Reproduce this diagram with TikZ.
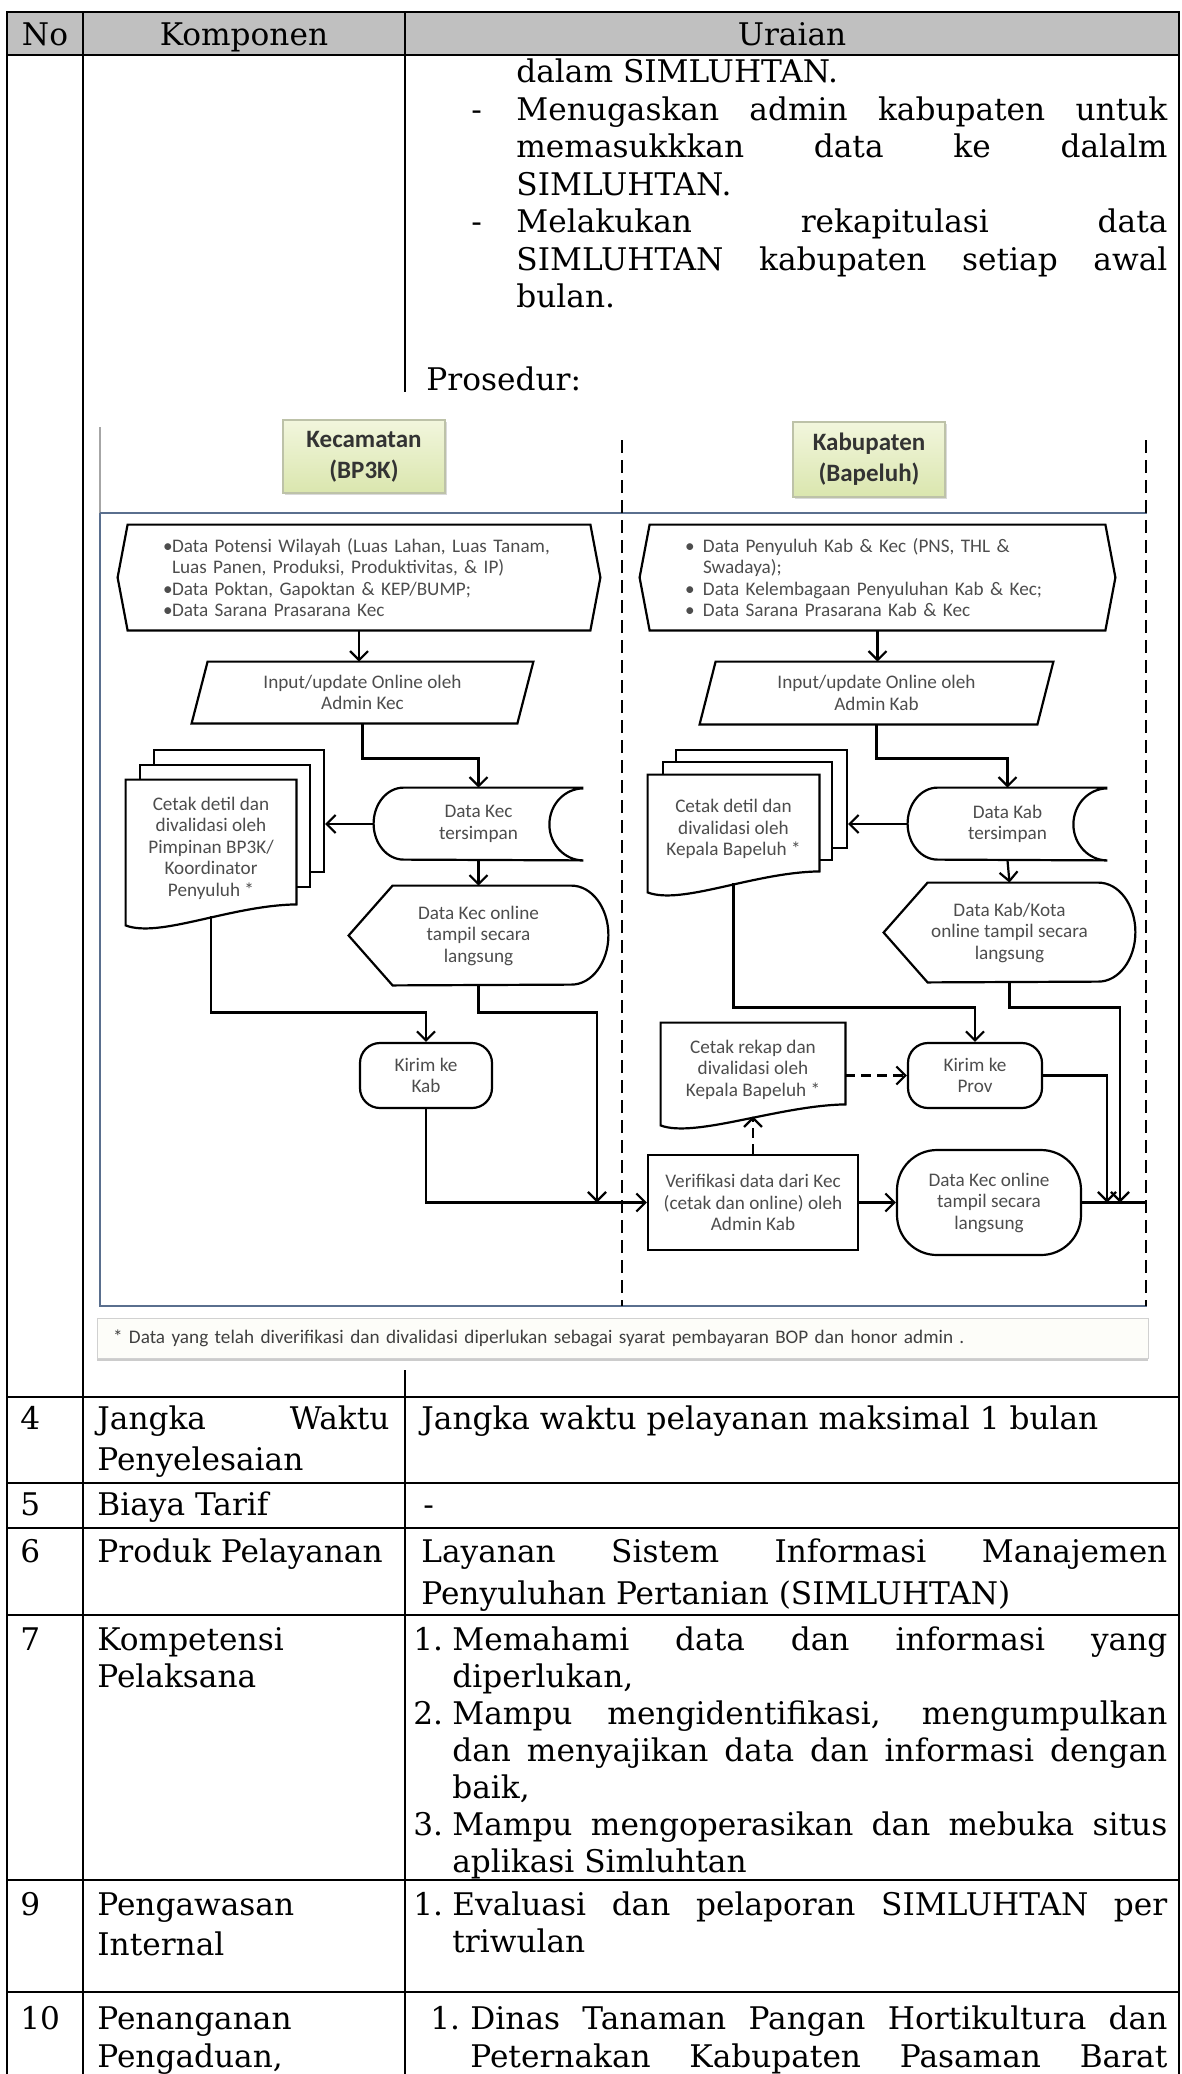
\documentclass[tikz,border=0pt]{standalone}
\usepackage{fontspec}
\setmainfont{DejaVu Serif}
\newfontfamily\flowfont{Carlito}
\usepackage{tikz}
\usetikzlibrary{backgrounds}
\usetikzlibrary{positioning, calc, arrows.meta, shadows}

\definecolor{hdrgray}{HTML}{C0C0C0}
\definecolor{laneblue}{HTML}{5A6F8E}
\definecolor{flowtext}{HTML}{4D4D4D}
\definecolor{greentop}{HTML}{F2F6DD}
\definecolor{greenbot}{HTML}{DAE6AE}
\definecolor{greenline}{HTML}{BDC2A8}
\definecolor{notefill}{HTML}{FDFDF9}

\tikzset{
  tab/.style={line width=1pt},
  cell/.style={anchor=west, inner sep=0pt, text height=14pt, text depth=2pt, font=\fontsize{15.6}{18.75}\selectfont},
  lane/.style={line width=1.3pt, dash pattern=on 6.5pt off 3.5pt},
  frame/.style={draw=laneblue, line width=1.2pt},
  shp/.style={line width=1.1pt},
  ftxt/.style={inner sep=0pt, align=center, text=flowtext, font=\flowfont\fontsize{9.6}{10.75}\selectfont},
  sheet/.style={draw, fill=white, line width=1.1pt, inner sep=0pt},
  term/.style={ftxt, draw, line width=1.1pt, rounded corners=10pt},
  procbox/.style={ftxt, draw, line width=1.1pt},
  lanehead/.style={draw=greenline, line width=0.6pt, top color=greentop, bottom color=greenbot,
    drop shadow={shadow xshift=1.2pt, shadow yshift=-1.2pt, opacity=0.3}, align=center,
    text=black!80, font=\flowfont\bfseries\fontsize{12.5}{15.5}\selectfont},
  arr/.style={line width=1.1pt, -{Straight Barb[length=4.5pt, width=9pt]}},
  darr/.style={arr, dash pattern=on 5pt off 3pt},
}

% outlines drawn round the (invisible) text nodes
\newcommand{\hexout}[1]{\draw[shp] (#1.north west) -- ($(#1.west)+(-10,0)$) -- (#1.south west) -- (#1.south east) -- ($(#1.east)+(10,0)$) -- (#1.north east) -- cycle;}
\newcommand{\paraout}[1]{\draw[shp] ($(#1.north west)+(16,0)$) -- (#1.north east) -- ($(#1.south east)+(-16,0)$) -- (#1.south west) -- cycle;}
\newcommand{\storeout}[1]{\draw[shp] (#1.north east) -- ($(#1.north west)+(30,0)$) arc[start angle=90, end angle=270, x radius=15pt, y radius=18pt] -- (#1.south east) arc[start angle=270, end angle=90, x radius=17pt, y radius=18pt];}
\newcommand{\dispout}[1]{\draw[shp] (#1.west) -- ($(#1.north west)+(44,0)$) -- ($(#1.north east)+(-37,0)$) arc[start angle=90, end angle=-90, x radius=18.5pt, y radius=24.75pt] -- ($(#1.south west)+(44,0)$) -- cycle;}
\newcommand{\docout}[1]{\draw[shp, fill=white] (#1.north west) -- (#1.north east) -- ($(#1.south east)+(0,-12)$) .. controls ($(#1.south east)+(-66,-11)$) and ($(#1.south west)+(34,22)$) .. ($(#1.south west)+(0,9)$) -- cycle;}
\newcommand{\fbul}[1]{\makebox[#1][l]{\textbullet}}

\begin{document}
\begin{tikzpicture}[x=0.5pt, y=-0.5pt]

      % TABLE

      \useasboundingbox (0,0) rectangle (1182,2074);
      \fill[hdrgray] (7,12) rectangle (1179,55);
      \draw[tab] (7,2074) -- (7,12) -- (1179,12) -- (1179,2074);
      \draw[tab] (7,55) -- (1179,55);
      \draw[tab] (83,12) -- (83,2074);
      \draw[tab] (405,12) -- (405,392);
      \draw[tab] (405,1370) -- (405,2074);
      \foreach \y in {1397,1483,1528,1615,1880,1992}
        \draw[tab] (7,\y) -- (1179,\y);

      \node[cell, anchor=center] (hNo) at (45,33) {No};
      \node[cell, anchor=center] (hKomp) at (244,33) {Komponen};
      \node[cell, anchor=center] (hUraian) at (792,33) {Uraian};

      % URAIAN (TOP)

      \node[cell] (ur1) at (516,70) {dalam SIMLUHTAN.};
      \node[cell] (dash1) at (471,108) {-};
      \node[cell] (ur2) at (516,108) {\makebox[325.5pt][s]{Menugaskan admin kabupaten untuk}};
      \node[cell] (ur3) at (516,145) {\makebox[325.5pt][s]{memasukkkan data ke dalalm}};
      \node[cell] (ur4) at (516,183) {SIMLUHTAN.};
      \node[cell] (dash2) at (471,220) {-};
      \node[cell] (ur5) at (516,220) {\makebox[325.5pt][s]{Melakukan rekapitulasi data}};
      \node[cell] (ur6) at (516,258) {\makebox[325.5pt][s]{SIMLUHTAN kabupaten setiap awal}};
      \node[cell] (ur7) at (516,295) {bulan.};
      \node[cell] (pros) at (426,378) {Prosedur:};

      % LANES

      \draw[black!35, line width=0.6pt] (100,427) -- (100,513);
      \draw[frame] (100,513) -- (1147,513);
      \draw[frame] (100,513) -- (100,1306) -- (1147,1306);
      \draw[lane] (622,440) -- (622,1306);
      \draw[lane] (1146,440) -- (1146,1306);

      \node[lanehead, minimum width=81pt, minimum height=36.5pt] (kec) at (364,456.5) {Kecamatan\\(BP3K)};
      \node[lanehead, minimum width=76pt, minimum height=37.5pt] (kab) at (869,459.5) {Kabupaten\\(Bapeluh)};

      % SHAPES KECAMATAN

      \node[ftxt, align=left, minimum width=231pt, minimum height=52.5pt, text width=196pt] (potA) at (359,577.5)
        {\fbul{4.5pt}Data Potensi Wilayah (Luas Lahan, Luas Tanam,\\
         \hspace*{4.5pt}Luas Panen, Produksi, Produktivitas, \& IP)\\
         \fbul{4.5pt}Data Poktan, Gapoktan \& KEP/BUMP;\\
         \fbul{4.5pt}Data Sarana Prasarana Kec};
      \node[ftxt, minimum width=170.5pt, minimum height=30.5pt] (inA) at (362.5,692.5) {Input/update Online oleh\\Admin Kec};
      \node[ftxt, minimum width=104.5pt, minimum height=36pt] (sdA) at (478.5,824) {Data Kec\\tersimpan};
      \node[ftxt, minimum width=85pt, minimum height=68pt] (mdA) at (211,848) {Cetak detil dan\\divalidasi oleh\\Pimpinan BP3K/\\Koordinator\\Penyuluh *};
      \node[ftxt, minimum width=129.5pt, minimum height=49.5pt] (dspA) at (478.5,935.5) {Data Kec online\\tampil secara\\langsung};
      \node[term, minimum width=66pt, minimum height=32.5pt] (kkA) at (426,1075.5) {Kirim ke\\Kab};

      % SHAPES KABUPATEN

      \node[ftxt, align=left, minimum width=227.5pt, minimum height=52.5pt, text width=192.5pt] (potB) at (877.5,577.5)
        {\fbul{9pt}Data Penyuluh Kab \& Kec (PNS, THL \&\\
         \hspace*{9pt}Swadaya);\\
         \fbul{9pt}Data Kelembagaan Penyuluhan Kab \& Kec;\\
         \fbul{9pt}Data Sarana Prasarana Kab \& Kec};
      \node[ftxt, minimum width=176.5pt, minimum height=31pt] (inB) at (876.5,693) {Input/update Online oleh\\Admin Kab};
      \node[ftxt, minimum width=99.5pt, minimum height=36pt] (sdB) at (1007.5,824) {Data Kab\\tersimpan};
      \node[ftxt, minimum width=85.5pt, minimum height=54pt] (mdB) at (733.5,829) {Cetak detil dan\\divalidasi oleh\\Kepala Bapeluh *};
      \node[ftxt, minimum width=125.5pt, minimum height=49.5pt] (dspB) at (1009.5,932.5) {Data Kab/Kota\\online tampil secara\\langsung};
      \node[ftxt, minimum width=92pt, minimum height=46.5pt] (crk) at (753,1069.5) {Cetak rekap dan\\divalidasi oleh\\Kepala Bapeluh *};
      \node[term, minimum width=67pt, minimum height=32.5pt] (kpB) at (975,1075.5) {Kirim ke\\Prov};
      \node[procbox, minimum width=105pt, minimum height=47.5pt] (vf) at (753,1202.5) {Verifikasi data dari Kec\\(cetak dan online) oleh\\Admin Kab};
      \node[term, rounded corners=20pt, minimum width=92pt, minimum height=52.5pt] (dkB) at (989,1202.5) {Data Kec online\\tampil secara\\langsung};

      % OUTLINES

      \hexout{potA}
      \hexout{potB}
      \paraout{inA}
      \paraout{inB}
      \storeout{sdA}
      \storeout{sdB}
      \dispout{dspA}
      \dispout{dspB}
      \begin{scope}[on background layer]
        \node[sheet, minimum width=85pt, minimum height=61pt] (mdA3) at (239,811) {};
        \node[sheet, minimum width=85pt, minimum height=61pt] (mdA2) at (225,826) {};
        \docout{mdA}
        \node[sheet, minimum width=85.5pt, minimum height=49pt] (mdB3) at (761.5,799) {};
        \node[sheet, minimum width=84.5pt, minimum height=49pt] (mdB2) at (747.5,811) {};
        \docout{mdB}
        \docout{crk}
      \end{scope}

      % ARCS

      \coordinate (jA) at (597,1202.5);
      \coordinate (jB) at (1107,1202.5);
      \coordinate (jC) at (1120,1202.5);
      \coordinate (jE) at (1146,1202.5);

      \draw[arr] (potA.south) -- (potA.south |- inA.north);
      \draw[arr] (inA.south) -- ++(0,35) -| (sdA.north);
      \draw[arr] (sdA.west) -- (sdA.west -| mdA3.east);
      \draw[arr] (sdA.south) -- (dspA.north);
      \draw[arr] (mdA.south) -- ++(0,96) -| (kkA.north);
      \draw[arr] (dspA.south) -- ++(0,27) -| (jA);
      \draw[arr] (kkA.south) |- (vf.west);

      \draw[arr] (potB.south) -- (potB.south |- inB.north);
      \draw[arr] (inB.south) -- ++(0,34) -| (sdB.north);
      \draw[arr] (sdB.west) -- (sdB.west -| mdB3.east);
      \draw[arr] (sdB.south) -- (dspB.north);
      \draw[arr] (mdB.south) -- ++(0,124) -| (kpB.north);
      \draw[arr] (dspB.south) -- ++(0,25) -| (jC);
      \draw[arr] (kpB.east) -| (jB);
      \draw[darr] (kpB.west -| crk.east) -- (kpB.west);
      \draw[darr] (vf.north) -- (crk.south);
      \draw[arr] (vf.east) -- (dkB.west);
      \draw[shp] (dkB.east) -- (jE);

      % NOTE

      \node[draw=black!18, fill=notefill, drop shadow={shadow xshift=0pt, shadow yshift=-1.5pt, opacity=0.4},
        minimum width=525.5pt, minimum height=20pt, inner xsep=8pt, inner ysep=0pt, text width=509.5pt, align=left,
        text=black!75, font=\flowfont\fontsize{9.6}{10.5}\selectfont] (note) at (622.5,1338)
        {* Data yang telah diverifikasi dan divalidasi diperlukan sebagai syarat pembayaran BOP dan honor admin .};

      % ROWS

      \node[cell] (n4) at (20,1417) {4};
      \node[cell] (k4a) at (97,1417) {\makebox[146pt][s]{Jangka Waktu}};
      \node[cell] (k4b) at (97,1458) {Penyelesaian};
      \node[cell] (r4) at (421,1417) {Jangka waktu pelayanan maksimal 1 bulan};

      \node[cell] (n5) at (20,1503) {5};
      \node[cell] (k5) at (97,1503) {Biaya Tarif};
      \node[cell] (r5) at (423,1503) {-};

      \node[cell] (n6) at (20,1550) {6};
      \node[cell] (k6) at (97,1550) {Produk Pelayanan};
      \node[cell] (r6a) at (421,1550) {\makebox[373pt][s]{Layanan Sistem Informasi Manajemen}};
      \node[cell] (r6b) at (421,1592) {Penyuluhan Pertanian (SIMLUHTAN)};

      \node[cell] (n7) at (20,1638) {7};
      \node[cell] (k7a) at (97,1638) {Kompetensi};
      \node[cell] (k7b) at (97,1675) {Pelaksana};
      \node[cell] (i71) at (413,1638) {1.};
      \node[cell] (r7a) at (452,1638) {\makebox[357.5pt][s]{Memahami data dan informasi yang}};
      \node[cell] (r7b) at (452,1675) {diperlukan,};
      \node[cell] (i72) at (413,1712) {2.};
      \node[cell] (r7c) at (452,1712) {\makebox[357.5pt][s]{Mampu mengidentifikasi, mengumpulkan}};
      \node[cell] (r7d) at (452,1749) {\makebox[357.5pt][s]{dan menyajikan data dan informasi dengan}};
      \node[cell] (r7e) at (452,1786) {baik,};
      \node[cell] (i73) at (413,1823) {3.};
      \node[cell] (r7f) at (452,1823) {\makebox[357.5pt][s]{Mampu mengoperasikan dan mebuka situs}};
      \node[cell] (r7g) at (452,1860) {aplikasi Simluhtan};

      \node[cell] (n9) at (20,1903) {9};
      \node[cell] (k9a) at (97,1903) {Pengawasan};
      \node[cell] (k9b) at (97,1943) {Internal};
      \node[cell] (i91) at (413,1903) {1.};
      \node[cell] (r9a) at (452,1903) {\makebox[357.5pt][s]{Evaluasi dan pelaporan SIMLUHTAN per}};
      \node[cell] (r9b) at (452,1940) {triwulan};

      \node[cell] (n10) at (20,2017) {10};
      \node[cell] (k10a) at (97,2017) {Penanganan};
      \node[cell] (k10b) at (97,2055) {Pengaduan,};
      \node[cell] (i101) at (430,2017) {1.};
      \node[cell] (r10a) at (470,2017) {\makebox[348.5pt][s]{Dinas Tanaman Pangan Hortikultura dan}};
      \node[cell] (r10b) at (470,2055) {\makebox[348.5pt][s]{Peternakan Kabupaten Pasaman Barat}};

\end{tikzpicture}
\end{document}
